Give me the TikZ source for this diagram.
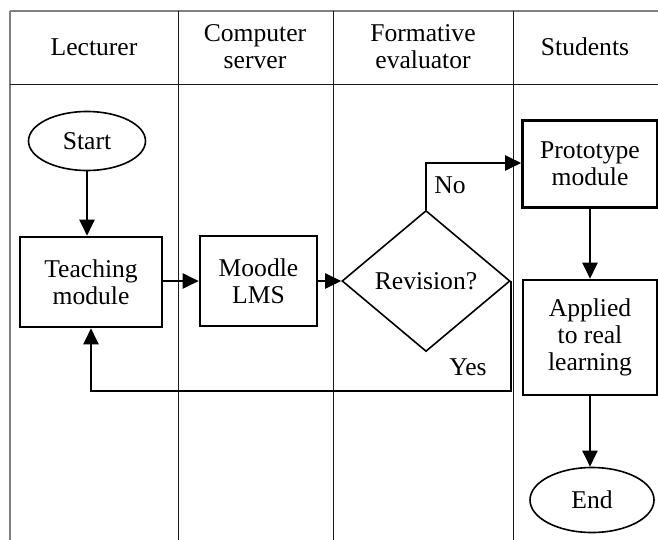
\documentclass[tikz,border=0pt]{standalone}
\usepackage{fontspec}
\setmainfont{Liberation Serif}
\usetikzlibrary{shapes.geometric,arrows.meta}
\begin{document}
\begin{tikzpicture}[x=0.5pt,y=-0.5pt,
  font=\fontsize{12.8}{13.6}\selectfont,
  lane/.style={line width=0.5pt,draw=black!90},
  laneg/.style={line width=0.8pt,draw=black!50},
  box/.style={draw,line width=1.3pt,rectangle,align=center,inner sep=2pt},
  term/.style={draw,line width=0.8pt,ellipse,inner sep=0pt},
  decide/.style={draw,line width=0.8pt,diamond,inner sep=0pt},
  arr/.style={line width=1.1pt,-{Triangle[length=8pt,width=7.5pt]}},
  lbl/.style={align=center}]
\useasboundingbox (0,0) rectangle (658,540);
% lanes
\draw[laneg] (10,11) -- (658,11);
\draw[laneg] (10,11) -- (10,540);
\draw[lane] (10,85) -- (658,85);
\draw[lane] (178,11) -- (178,540);
\draw[lane] (333,11) -- (333,540);
\draw[lane] (513,11) -- (513,540);
% headers
\node[lbl] (h1) at (94,47) {Lecturer};
\node[lbl] (h2) at (255,47) {Computer\\server};
\node[lbl] (h3) at (423,47) {Formative\\evaluator};
\node[lbl] (h4) at (585,47) {Students};
% nodes
\node[term,minimum width=58.5pt,minimum height=29.5pt] (start) at (87,141) {Start};
\node[box,minimum width=71pt,minimum height=45pt] (teach) at (91,282) {Teaching\\module};
\node[box,minimum width=58.5pt,minimum height=45pt] (moodle) at (258.5,281) {Moodle\\LMS};
\node[decide,minimum width=84pt,minimum height=70.5pt] (dia) at (426,281) {Revision?};
\node[box,minimum width=67.5pt,minimum height=43.5pt] (proto) at (590,164) {Prototype\\module};
\node[box,minimum width=67pt,minimum height=57.5pt] (appl) at (590,337.5) {Applied\\to real\\learning};
\node[term,minimum width=62pt,minimum height=32.5pt] (end) at (592,500) {End};
\node (no) at (450,185) {No};
\node (yes) at (468,367) {Yes};
\coordinate (ntop) at (426,163);
\coordinate (ybot) at (91,391);
% connectors
\draw[arr] (start.south) -- (start.south |- teach.north);
\draw[arr] (teach.east |- moodle.west) -- (moodle.west);
\draw[arr] (moodle.east) -- (dia.west);
\draw[arr] (dia.north) -- (ntop) -- (proto.west |- ntop);
\draw[arr] (dia.east) |- (ybot) -- (teach.south);
\draw[arr] (proto.south) -- (appl.north);
\draw[arr] (appl.south) -- (appl.south |- end.north);
\end{tikzpicture}
\end{document}
